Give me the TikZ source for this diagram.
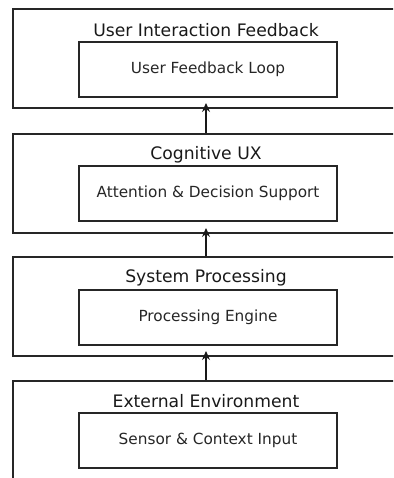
\documentclass[tikz,border=0pt]{standalone}
\usepackage{fontspec}
\setmainfont{DejaVu Sans}
\usetikzlibrary{arrows.meta}
\begin{document}
\begin{tikzpicture}[x=1pt,y=-1pt,
  outerbox/.style={draw=black!85, line width=2pt, minimum width=386pt, minimum height=99pt, inner sep=0pt},
  innerbox/.style={draw=black!85, line width=1.3pt, minimum width=258pt, minimum height=55pt, inner sep=0pt, font=\fontsize{15.3}{17}\selectfont, text=black!85},
  titletext/.style={font=\fontsize{17.2}{19}\selectfont, text=black!90, inner sep=0pt},
  flow/.style={-{Stealth[length=9pt,width=8pt]}, line width=1.2pt, black!90, shorten >=-6pt}]
\useasboundingbox (0,0) rectangle (393,478);
\clip (0,0) rectangle (393,478);
% layer 1
\node[outerbox] (o1) at (206,58.5) {};
\node[titletext] (t1) at (206,30) {User Interaction Feedback};
\node[innerbox] (i1) at (208,69.5) {User Feedback Loop};
% layer 2
\node[outerbox] (o2) at (206,183.5) {};
\node[titletext] (t2) at (206,155) {Cognitive UX};
\node[innerbox] (i2) at (208,193.5) {Attention \& Decision Support};
% layer 3
\node[outerbox] (o3) at (206,306.5) {};
\node[titletext] (t3) at (206,278) {System Processing};
\node[innerbox] (i3) at (208,317.5) {Processing Engine};
% layer 4
\node[outerbox] (o4) at (206,430.5) {};
\node[titletext] (t4) at (206,401) {External Environment};
\node[innerbox] (i4) at (208,440.5) {Sensor \& Context Input};
% arrows
\draw[flow] (o2.north) -- (o1.south);
\draw[flow] (o3.north) -- (o2.south);
\draw[flow] (o4.north) -- (o3.south);
\end{tikzpicture}
\end{document}
